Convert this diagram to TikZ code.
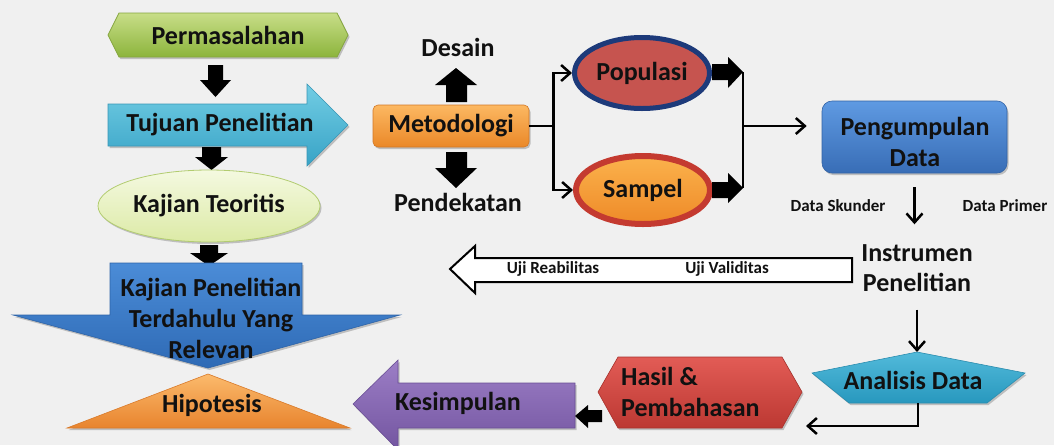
\documentclass[tikz,border=0pt]{standalone}
\usepackage{fontspec}
\setmainfont{Carlito}
\usetikzlibrary{arrows.meta,shadows,shapes.geometric}
\definecolor{bgc}{HTML}{F0F0F0}
\definecolor{ink}{HTML}{111111}
\definecolor{greenT}{HTML}{C8DE88}
\definecolor{greenB}{HTML}{8CB43C}
\definecolor{greenD}{HTML}{86A640}
\definecolor{tujT}{HTML}{72CDE4}
\definecolor{tujB}{HTML}{38A3C6}
\definecolor{tujD}{HTML}{3996B5}
\definecolor{ktT}{HTML}{F4F9E0}
\definecolor{ktB}{HTML}{DCEAA6}
\definecolor{ktD}{HTML}{B2CC70}
\definecolor{kpT}{HTML}{4B8CD7}
\definecolor{kpB}{HTML}{2E6AB5}
\definecolor{kpD}{HTML}{2E64A8}
\definecolor{hipT}{HTML}{FBBA6C}
\definecolor{hipB}{HTML}{E8842E}
\definecolor{hipD}{HTML}{D97A2A}
\definecolor{kesT}{HTML}{9C7EC6}
\definecolor{kesB}{HTML}{7355A0}
\definecolor{kesD}{HTML}{6A4E95}
\definecolor{hasT}{HTML}{E25C56}
\definecolor{hasB}{HTML}{BC3832}
\definecolor{hasD}{HTML}{A8322D}
\definecolor{anaT}{HTML}{52BADA}
\definecolor{anaB}{HTML}{2898BE}
\definecolor{anaD}{HTML}{2A8CAE}
\definecolor{pdT}{HTML}{5F9AE2}
\definecolor{pdB}{HTML}{386DB6}
\definecolor{pdD}{HTML}{3263A6}
\definecolor{metT}{HTML}{FCB862}
\definecolor{metB}{HTML}{EA8828}
\definecolor{metD}{HTML}{D27826}
\definecolor{popF}{HTML}{C6544F}
\definecolor{popD}{HTML}{1D3A7A}
\definecolor{samT}{HTML}{FBB24C}
\definecolor{samB}{HTML}{EE8A28}
\definecolor{samD}{HTML}{C43A30}
\begin{document}
\begin{tikzpicture}[x=1pt,y=-1pt,
  lbl/.style={font=\bfseries\fontsize{26}{31}\selectfont, text=ink, align=center, inner sep=0pt},
  sml/.style={font=\bfseries\fontsize{17}{20}\selectfont, text=ink, inner sep=0pt},
  blk/.style={fill=black},
  conn/.style={draw=black, line width=2.5pt, -{Straight Barb[length=9pt,width=16pt]}},
  wire/.style={draw=black, line width=2.5pt},
  shad/.style={drop shadow={shadow xshift=1.5pt,shadow yshift=-2pt,opacity=0.3,fill=black!70}}
]
\fill[bgc] (0,0) rectangle (1054,445);
\useasboundingbox (0,0) rectangle (1054,445);

% Permasalahan
\shade[top color=greenT,bottom color=greenB,draw=greenD,line width=0.8pt,shad]
  (108,35) -- (119,13) -- (337,13) -- (348,35) -- (337,57) -- (119,57) -- cycle;
\node[lbl] (perm) at (228,35) {Permasalahan};
\fill[blk] (208,65) -- (223,65) -- (223,80) -- (231,80) -- (215.5,97) -- (200,80) -- (208,80) -- cycle;

% Tujuan Penelitian
\shade[top color=tujT,bottom color=tujB,draw=tujD,line width=0.6pt,shad]
  (108,104) -- (307,104) -- (307,84) -- (348,125) -- (307,166) -- (307,146) -- (108,146) -- cycle;
\node[lbl] (tuj) at (220,125) {Tujuan Penelitian};
\fill[blk] (202,147) -- (221,147) -- (221,157) -- (228,157) -- (211.5,170) -- (195,157) -- (202,157) -- cycle;

% Kajian Teoritis
\node[ellipse, lbl, draw=ktD, line width=0.8pt, top color=ktT, bottom color=ktB,
  minimum width=222pt, minimum height=72pt, shad] (kt) at (209,206) {Kajian Teoritis};
\fill[blk] (200,245) -- (218,245) -- (218,253) -- (228,253) -- (209,266) -- (190,253) -- (200,253) -- cycle;

% Kajian Penelitian
\shade[top color=kpT,bottom color=kpB,draw=kpD,line width=0.6pt,shad]
  (110,263) -- (302,263) -- (302,315) -- (400,315) -- (208,368) -- (13,315) -- (110,315) -- cycle;
\node[lbl] (kp) at (211,318) {Kajian Penelitian\\Terdahulu Yang\\Relevan};

% Hipotesis
\shade[top color=hipT,bottom color=hipB,draw=hipD,line width=0.6pt,shad]
  (208,374) -- (350,428) -- (67,428) -- cycle;
\node[lbl] (hip) at (212,405) {Hipotesis};

% Kesimpulan
\shade[top color=kesT,bottom color=kesB,draw=kesD,line width=0.6pt,shad]
  (353,404) -- (398,360) -- (398,383) -- (575,383) -- (575,428) -- (398,428) -- (398,450) -- cycle;
\node[lbl] (kes) at (458,403) {Kesimpulan};
\fill[blk] (575,416) -- (588,405) -- (588,410) -- (602,410) -- (602,422) -- (588,422) -- (588,428) -- cycle;

% Hasil & Pembahasan
\shade[top color=hasT,bottom color=hasB,draw=hasD,line width=0.6pt,shad]
  (598,392) -- (618,357) -- (782,357) -- (802,392) -- (782,428) -- (618,428) -- cycle;
\node[lbl, align=left, anchor=west] (has) at (621,392) {Hasil \&\\Pembahasan};
\coordinate (hasR) at (806,426);

% Analisis Data
\shade[top color=anaT,bottom color=anaB,draw=anaD,line width=0.6pt,shad]
  (812,373) -- (917,352) -- (1025,373) -- (987,403) -- (849,403) -- cycle;
\coordinate (anatop) at (917,352);
\coordinate (anabot) at (918,403);
\node[lbl] (ana) at (913,380) {Analisis Data};
\draw[conn] (anabot) |- (hasR);

% Metodologi
\node[lbl, rounded corners=5pt, top color=metT, bottom color=metB, draw=metD, line width=0.6pt,
  minimum width=156pt, minimum height=42pt, shad] (met) at (451,126) {Metodologi};
\node[lbl] (des) at (458,47) {Desain};
\fill[blk] (456,68) -- (477,85) -- (467,85) -- (467,102) -- (446,102) -- (446,85) -- (435,85) -- cycle;
\fill[blk] (446,152) -- (467,152) -- (467,168) -- (477,168) -- (456,188) -- (435,168) -- (446,168) -- cycle;
\node[lbl] (pen) at (458,202) {Pendekatan};

% Populasi / Sampel
\node[ellipse, lbl, fill=popF, draw=popD, line width=5pt,
  minimum width=135pt, minimum height=71pt, shad] (pop) at (642,73) {Populasi};
\node[ellipse, lbl, top color=samT, bottom color=samB, draw=samD, line width=6pt,
  minimum width=134pt, minimum height=68pt, shad] (sam) at (643,190) {Sampel};
\draw[conn] (met.east) -- ++(24,0) coordinate (split) |- (pop.west);
\draw[conn] (split) |- (sam.west);
\fill[blk] (712,64) -- (728,64) -- (728,57) -- (743,72) -- (728,88) -- (728,80) -- (712,80) -- cycle;
\coordinate (popArr) at (743,72);
\fill[blk] (712,182) -- (728,182) -- (728,173) -- (743,188) -- (728,203) -- (728,198) -- (712,198) -- cycle;
\coordinate (samArr) at (743,188);
\draw[wire] (popArr) -- (samArr);
\coordinate (merge) at (743,126);

% Pengumpulan Data
\node[rounded corners=10pt, top color=pdT, bottom color=pdB, draw=pdD, line width=0.6pt,
  minimum width=185pt, minimum height=72pt, shad] (pd) at (914.5,137) {};
\node[lbl] (pdt) at (915,142) {Pengumpulan\\Data};
\draw[conn, shorten >=15pt] (merge) -- (merge -| pd.west);

% Instrumen Penelitian
\node[lbl, font=\bfseries\fontsize{26}{30}\selectfont] (instr) at (917,268) {Instrumen\\Penelitian};
\draw[conn, shorten <=14pt, shorten >=20pt] (pd.south) -- (pd.south |- instr.north);
\node[sml] (dsk) at (838,206) {Data Skunder};
\node[sml] (dpr) at (1005,206) {Data Primer};
\draw[conn, shorten <=18pt] (instr.south -| anatop) -- (anatop);

% Uji arrow
\draw[black, line width=2pt, fill=white]
  (450,269) -- (475,246) -- (475,258) -- (852,258) -- (852,282) -- (475,282) -- (475,293) -- cycle;
\node[sml] (ujr) at (553,269) {Uji Reabilitas};
\node[sml] (ujv) at (727,269) {Uji Validitas};
\end{tikzpicture}
\end{document}
